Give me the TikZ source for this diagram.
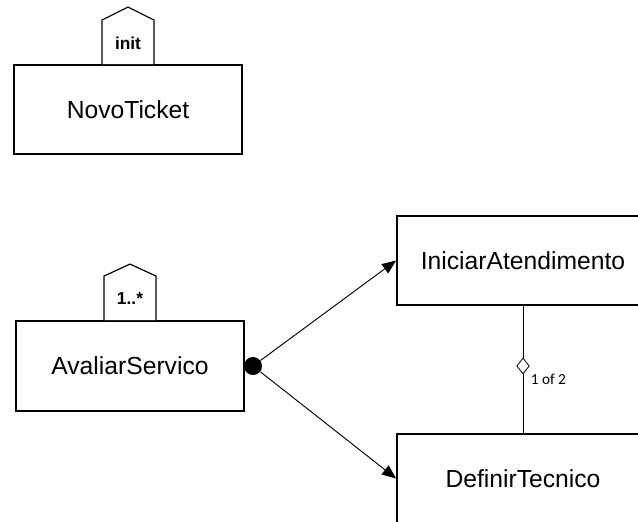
\documentclass[tikz,border=0pt]{standalone}
\usepackage{fontspec}
\setmainfont{Liberation Sans}
\newfontfamily\calib{Carlito}
\usetikzlibrary{arrows.meta,shapes.geometric}
\begin{document}
\begin{tikzpicture}[x=0.75pt,y=-0.75pt,
  box/.style={draw,line width=1.4pt,rectangle,inner sep=0pt,font=\fontsize{18.5}{22}\selectfont},
  tab/.style={draw,line width=0.9pt,fill=white,line join=miter},
  tablabel/.style={font=\bfseries\fontsize{13}{15}\selectfont,inner sep=0pt},
  conn/.style={draw,line width=0.7pt},
  arr/.style={conn,-{Triangle[length=10.5pt,width=8.5pt]}}]
\useasboundingbox (0,0) rectangle (638,521);
\clip (0,0) rectangle (638,521);
% boxes
\node[box,minimum width=171pt,minimum height=66.75pt] (novo) at (128,109.5) {NovoTicket};
\node[box,minimum width=171pt,minimum height=67.5pt] (aval) at (130,366) {AvaliarServico};
\node[box,minimum width=189pt,minimum height=67pt] (ini) at (523,260.5) {IniciarAtendimento};
\node[box,minimum width=189pt,minimum height=67pt] (def) at (523,478.5) {DefinirTecnico};
% tabs
\draw[tab] (novo.north) ++(-26,0) -- ++(0,-44) -- ++(26,-13) -- ++(26,13) -- ++(0,44);
\node[tablabel] (inittab) at (128,43) {init};
\draw[tab] (aval.north) ++(-26,0) -- ++(0,-44) -- ++(26,-12) -- ++(26,12) -- ++(0,44);
\node[tablabel] (multtab) at (130,299) {1..*};
% decision dot and arrows
\node[circle,fill=black,inner sep=0pt,minimum size=13.5pt] (dot) at (253,366) {};
\draw[arr] (dot) -- (ini.west);
\draw[arr] (dot) -- (def.west);
% xor constraint
\node[diamond,draw,line width=0.6pt,fill=white,inner sep=0pt,minimum width=9.5pt,minimum height=12pt] (dia) at (523,366) {};
\draw[conn] (ini.south) -- (dia.north);
\draw[conn] (dia.south) -- (def.north);
\node[anchor=west,inner sep=0pt,font=\calib\fontsize{11.5}{13}\selectfont] (xorlabel) at (530.5,379.5) {1 of 2};
\end{tikzpicture}
\end{document}
